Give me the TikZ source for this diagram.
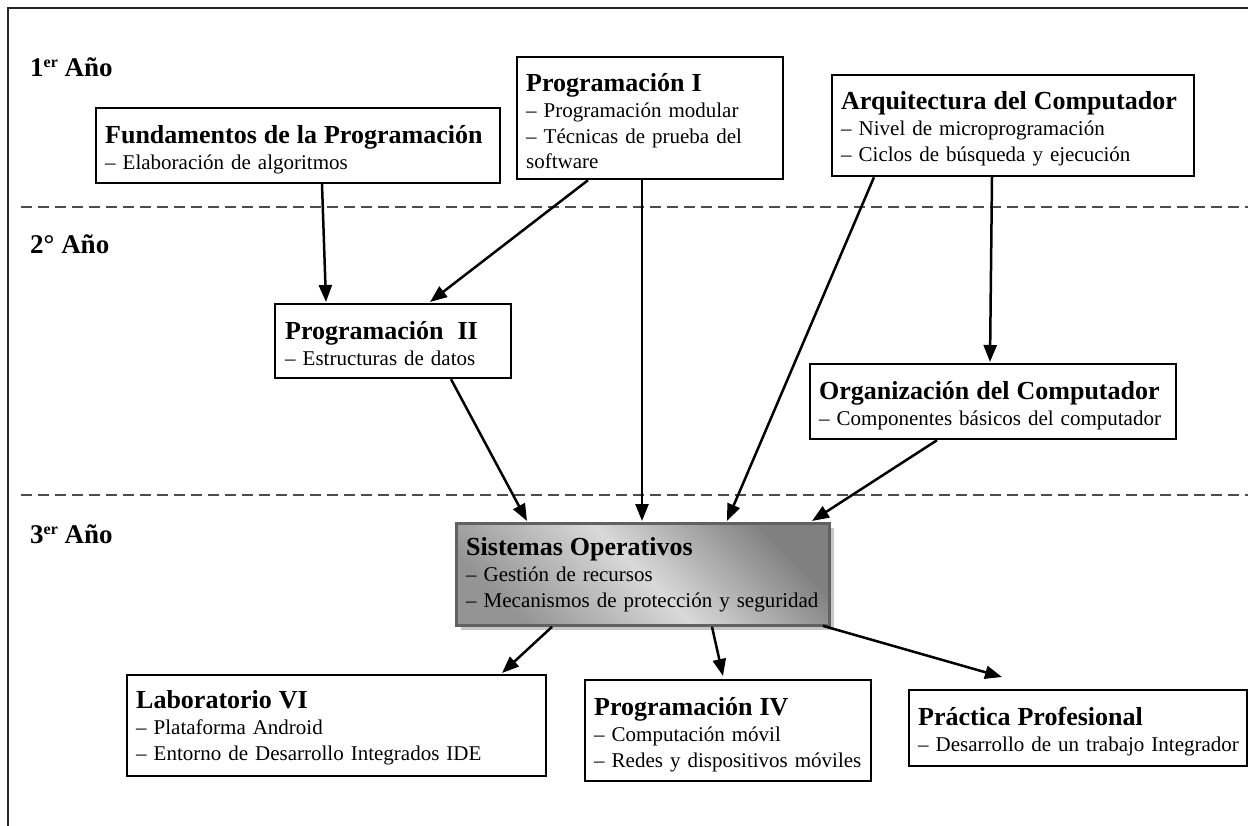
\documentclass[tikz,border=0pt]{standalone}
\usepackage{fontspec}
\setmainfont{Liberation Serif}
\usetikzlibrary{arrows.meta,calc}
\newcommand{\ttl}[1]{{\fontsize{26}{26}\selectfont\bfseries #1}\\[1pt]}
\newcommand{\itm}[1]{\mbox{– #1}}
\newcommand{\yr}[2]{{\fontsize{27}{27}\selectfont\bfseries #1\raisebox{9pt}{\fontsize{16}{16}\selectfont #2}~Año}}
\begin{document}
\begin{tikzpicture}[x=1pt,y=-1pt,
  frame/.style={draw=black, line width=2.2pt, anchor=north west, inner sep=0pt, fill=white},
  txt/.style={anchor=base west, align=left, inner sep=0pt, text width=420pt,
    font=\fontsize{21}{25.5}\selectfont},
  arr/.style={line width=2.5pt, -{Triangle[length=17pt,width=13pt]}},
  sepline/.style={draw=black!70, line width=1.7pt, dash pattern=on 11pt off 6pt},
  yearlbl/.style={anchor=base west, inner sep=0pt}
]
\useasboundingbox (0,0) rectangle (1248,825);
% frame
\draw[line width=2.4pt, black!85] (8,826) -- (8,8) -- (1250,8);
% separators
\draw[sepline] (21,207) -- (1250,207);
\draw[sepline] (21,495) -- (1250,495);
% year labels
\node[yearlbl] (y1) at (30,76) {\yr{1}{er}};
\node[yearlbl] (y2) at (30,253) {{\fontsize{27}{27}\selectfont\bfseries 2°~Año}};
\node[yearlbl] (y3) at (30,543) {\yr{3}{er}};

% boxes (frames)
\node[frame, minimum width=404pt, minimum height=75pt] (fund) at (95,107) {};
\node[frame, minimum width=266pt, minimum height=122pt] (p1) at (516,56) {};
\node[frame, minimum width=362pt, minimum height=101pt] (arq) at (831,74) {};
\node[frame, minimum width=236pt, minimum height=74pt] (p2) at (274,303) {};
\node[frame, minimum width=366pt, minimum height=75pt] (org) at (809,363) {};
\fill[black!22] (461,528) rectangle (834,630);
\node[frame, draw=black!62, line width=2.8pt, minimum width=373pt, minimum height=102pt,
  shading=axis, top color=black!50, bottom color=black!42, middle color=black!15,
  shading angle=-45] (so) at (455,522) {};
\node[frame, minimum width=419pt, minimum height=101pt] (lab) at (126,674) {};
\node[frame, minimum width=286pt, minimum height=101pt] (p4) at (584,679) {};
\node[frame, minimum width=338pt, minimum height=76pt] (prac) at (908,689) {};

% texts
\node[txt] (tfund) at ($(fund.north west)+(10,36)$)
  {\ttl{Fundamentos de la Programación}\itm{Elaboración de algoritmos}};
\node[txt] (tp1) at ($(p1.north west)+(10,35)$)
  {\ttl{Programación I}\itm{Programación modular}\\ \itm{Técnicas de prueba del}\\ \hspace*{0pt}software};
\node[txt] (tarq) at ($(arq.north west)+(10,35)$)
  {\ttl{Arquitectura del Computador}\itm{Nivel de microprogramación}\\ \itm{Ciclos de búsqueda y ejecución}};
\node[txt] (tp2) at ($(p2.north west)+(11,36)$)
  {\ttl{Programación\ \ II}\itm{Estructuras de datos}};
\node[txt] (torg) at ($(org.north west)+(10,36)$)
  {\ttl{Organización del Computador}\itm{Componentes básicos del computador}};
\node[txt] (tso) at ($(so.north west)+(11,33)$)
  {\ttl{Sistemas Operativos}\itm{Gestión de recursos}\\ \itm{Mecanismos de protección y seguridad}};
\node[txt] (tlab) at ($(lab.north west)+(10,34)$)
  {\ttl{Laboratorio VI}\itm{Plataforma Android}\\ \itm{Entorno de Desarrollo Integrados IDE}};
\node[txt] (tp4) at ($(p4.north west)+(10,36)$)
  {\ttl{Programación IV}\itm{Computación móvil}\\ \itm{Redes y dispositivos móviles}};
\node[txt] (tprac) at ($(prac.north west)+(10,36)$)
  {\ttl{Práctica Profesional}\itm{Desarrollo de un trabajo Integrador}};

% arrows
\draw[arr] ($(fund.south west)+(227,0)$) -- ($(p2.north west)+(52,-1)$);
\draw[arr] ($(p1.south west)+(72,0)$) -- ($(p2.north west)+(156,-1)$);
\draw[arr] ($(p1.south west)+(126,0)$) -- ($(so.north west)+(187,-1)$);
\draw[arr] ($(arq.south west)+(43,0)$) -- ($(so.north west)+(272,-1)$);
\draw[arr] ($(arq.south west)+(161,0)$) -- ($(org.north west)+(181,-1)$);
\draw[arr] ($(p2.south west)+(177,0)$) -- ($(so.north west)+(72,-1)$);
\draw[arr] ($(org.south west)+(128,0)$) -- ($(so.north west)+(357,-1)$);
\draw[arr] ($(so.south west)+(97,0)$) -- ($(lab.north west)+(376,-1)$);
\draw[arr] ($(so.south west)+(257,0)$) -- ($(p4.north west)+(139,-3)$);
\draw[arr] ($(so.south east)+(-8,-1)$) -- ($(prac.north west)+(94,-12)$);
\end{tikzpicture}
\end{document}
